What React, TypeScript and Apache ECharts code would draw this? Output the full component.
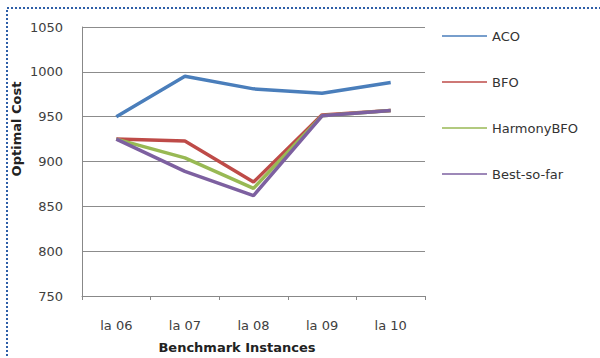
import React, { useEffect, useRef } from "react";
import * as echarts from "echarts";

const categories = ["la 06", "la 07", "la 08", "la 09", "la 10"];
const seriesNames = ["ACO", "BFO", "HarmonyBFO", "Best-so-far"];
const acoValues = [950, 995, 981, 976, 988];
const bfoValues = [925, 923, 877, 952, 957];
const harmonyValues = [925, 904, 870, 951, 957];
const bestValues = [925, 889, 862, 951, 957];
const colors = ["#4A7EBB", "#BE4B48", "#98B954", "#7D60A0"];
const yTicks = { min: 750, max: 1050, interval: 50 };

const FONT = "'DejaVu Sans', sans-serif";

export default function App() {
  const ref = useRef<HTMLDivElement>(null);

  useEffect(() => {
    if (!ref.current) return;
    const chart = echarts.init(ref.current, undefined, { renderer: "svg" });
    const values = [acoValues, bfoValues, harmonyValues, bestValues];
    chart.setOption({
      animation: false,
      backgroundColor: "#ffffff",
      grid: { left: 82, right: 175, top: 27, bottom: 62 },
      legend: {
        orient: "vertical",
        left: 437,
        top: 23,
        icon: "rect",
        itemWidth: 45,
        itemHeight: 1.5,
        itemGap: 30,
        data: seriesNames,
        textStyle: { fontFamily: FONT, fontSize: 13, color: "#333", lineHeight: 16 },
      },
      xAxis: {
        type: "category",
        data: categories,
        boundaryGap: true,
        axisLine: { lineStyle: { color: "#888", width: 1 } },
        axisTick: { show: true, length: 4, inside: false, lineStyle: { color: "#888" } },
        axisLabel: { fontFamily: FONT, fontSize: 13, color: "#404040", margin: 23 },
      },
      yAxis: {
        type: "value",
        min: yTicks.min,
        max: yTicks.max,
        interval: yTicks.interval,
        axisLine: { show: true, lineStyle: { color: "#888", width: 1 } },
        axisTick: { show: false },
        splitLine: { lineStyle: { color: "#8c8c8c", width: 1 } },
        axisLabel: {
          fontFamily: FONT,
          fontSize: 13,
          color: "#404040",
          margin: 19,
          formatter: (v: number) => String(v),
        },
      },
      graphic: [
        {
          type: "rect",
          shape: { x: 7, y: 8, width: 620, height: 400 },
          style: { fill: "none", stroke: "#2E5FA8", lineWidth: 2, lineDash: [2, 2] },
          silent: true,
        },
        {
          type: "text",
          x: 16,
          y: 129,
          rotation: Math.PI / 2,
          style: {
            text: "Optimal Cost",
            fontFamily: FONT,
            fontSize: 13,
            fontWeight: "bold",
            fill: "#222",
            align: "center",
            verticalAlign: "middle",
          },
        },
        {
          type: "text",
          x: 237,
          y: 347,
          style: {
            text: "Benchmark Instances",
            fontFamily: FONT,
            fontSize: 13,
            fontWeight: "bold",
            fill: "#222",
            align: "center",
            verticalAlign: "middle",
          },
        },
      ],
      series: seriesNames.map((name, i) => ({
        name,
        type: "line",
        data: values[i],
        symbol: "none",
        color: colors[i],
        lineStyle: { width: 3.5, color: colors[i] },
        z: 2 + i,
      })),
    });
    return () => chart.dispose();
  }, []);

  return (
    <div
      ref={ref}
      style={{ position: "fixed", left: 0, top: 0, width: 600, height: 358 }}
    />
  );
}
